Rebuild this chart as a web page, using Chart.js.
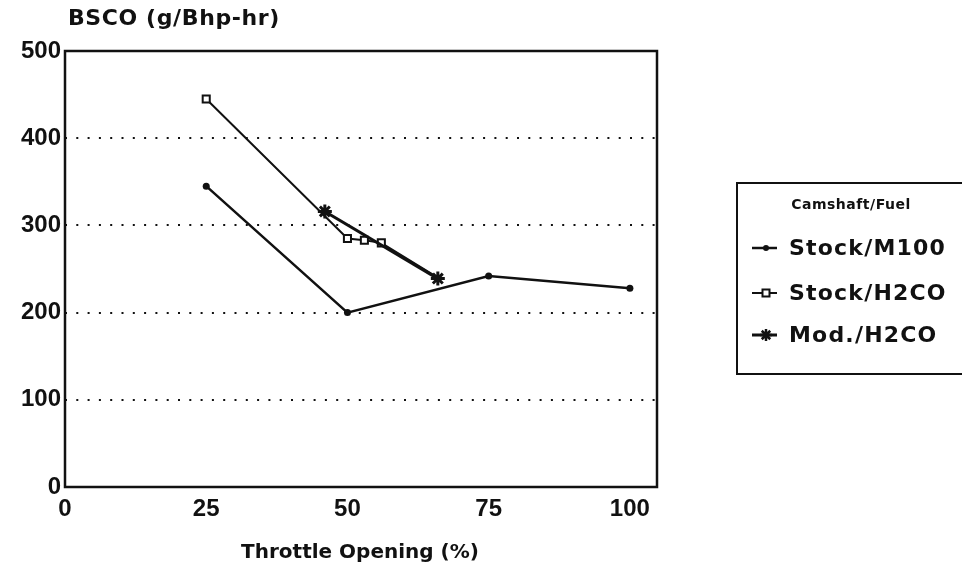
<!DOCTYPE html>
<html>
<head>
<meta charset="utf-8">
<script src="https://cdn.jsdelivr.net/npm/chart.js@4.4.1/dist/chart.umd.min.js"></script>
<style>
  html, body { margin: 0; padding: 0; background: #fff; }
  #wrap { width: 962px; height: 575px; }
</style>
</head>
<body>
<div id="wrap"><canvas id="chart" width="962" height="575"></canvas></div>
<script>
// BSCO vs throttle opening, three camshaft/fuel combos

// Axis ticks
const xTicks = [0, 25, 50, 75, 100];
const yTicks = [0, 100, 200, 300, 400, 500];

// Series (throttle %, g/Bhp-hr)
const m100X = [25, 50, 75, 100];
const m100Y = [345, 200, 242, 228];

const stockH2coX = [25, 50, 53, 56, 66];
const stockH2coY = [445, 285, 283, 280, 240];

const modH2coX = [46, 66];
const modH2coY = [316, 239];

const legendLabels = ['Stock/M100', 'Stock/H2CO', 'Mod./H2CO'];

const INK = '#111';

function toPoints(xs, ys) {
    return xs.map((x, i) => ({ x: x, y: ys[i] }));
}

// little marker drawer for the legend box
function drawMarker(ctx, style, x, y) {
    ctx.save();
    ctx.strokeStyle = INK;
    ctx.fillStyle = INK;
    if (style === 'circle') {
        ctx.beginPath();
        ctx.arc(x, y, 3, 0, Math.PI * 2);
        ctx.fill();
    } else if (style === 'rect') {
        ctx.fillStyle = '#fff';
        ctx.lineWidth = 2;
        ctx.beginPath();
        ctx.rect(x - 3.5, y - 3.5, 7, 7);
        ctx.fill();
        ctx.stroke();
    } else if (style === 'star') {
        ctx.lineWidth = 2.5;
        const r = 6;
        ctx.beginPath();
        for (let k = 0; k < 4; k++) {
            const a = k * Math.PI / 4;
            ctx.moveTo(x - r * Math.cos(a), y - r * Math.sin(a));
            ctx.lineTo(x + r * Math.cos(a), y + r * Math.sin(a));
        }
        ctx.stroke();
    }
    ctx.restore();
}

const decorPlugin = {
    id: 'decor',
    afterDraw(chart) {
        const ctx = chart.ctx;
        const a = chart.chartArea;
        ctx.save();

        // plot frame
        ctx.strokeStyle = INK;
        ctx.lineWidth = 2.5;
        ctx.strokeRect(a.left, a.top, a.right - a.left, a.bottom - a.top);

        // y title sits above the axis, horizontal
        ctx.fillStyle = INK;
        ctx.font = 'bold 22px "DejaVu Sans"';
        ctx.letterSpacing = '0.6px';
        ctx.textAlign = 'left';
        ctx.textBaseline = 'middle';
        ctx.fillText('BSCO (g/Bhp-hr)', 68, 19);

        // x title
        ctx.font = 'bold 20px "DejaVu Sans"';
        ctx.letterSpacing = '0px';
        ctx.textAlign = 'center';
        ctx.fillText('Throttle Opening (%)', 360, 553);

        // legend box
        ctx.lineWidth = 2;
        ctx.strokeRect(737, 183, 240, 191);

        ctx.font = 'bold 14px "DejaVu Sans"';
        ctx.letterSpacing = '0.5px';
        ctx.textAlign = 'center';
        ctx.fillText('Camshaft/Fuel', 851, 205);

        const rowsY = [248, 293, 335];
        const styles = ['circle', 'rect', 'star'];
        const widths = [2.5, 2, 3];
        ctx.font = 'bold 22px "DejaVu Sans"';
        ctx.letterSpacing = '1.2px';
        ctx.textAlign = 'left';
        legendLabels.forEach((label, i) => {
            const y = rowsY[i];
            ctx.lineWidth = widths[i];
            ctx.beginPath();
            ctx.moveTo(752, y);
            ctx.lineTo(777, y);
            ctx.stroke();
            drawMarker(ctx, styles[i], 766, y);
            ctx.fillText(label, 789, y + 1);
        });

        ctx.restore();
    }
};

const ctx = document.getElementById('chart').getContext('2d');
const chart = new Chart(ctx, {
    type: 'scatter',
    data: {
        datasets: [
            {
                label: legendLabels[2],
                data: toPoints(modH2coX, modH2coY),
                showLine: true,
                borderColor: INK,
                backgroundColor: INK,
                borderWidth: 3,
                pointStyle: 'star',
                pointRadius: 7,
                pointBorderWidth: 3,
                pointBorderColor: INK
            },
            {
                label: legendLabels[1],
                data: toPoints(stockH2coX, stockH2coY),
                showLine: true,
                borderColor: INK,
                backgroundColor: '#fff',
                borderWidth: 2,
                pointStyle: 'rect',
                pointRadius: [5, 5, 5, 5, 0],
                pointBorderWidth: 2,
                pointBorderColor: INK,
                pointBackgroundColor: '#fff'
            },
            {
                label: legendLabels[0],
                data: toPoints(m100X, m100Y),
                showLine: true,
                borderColor: INK,
                backgroundColor: INK,
                borderWidth: 2.5,
                pointStyle: 'circle',
                pointRadius: 3.5,
                pointBorderWidth: 0,
                pointBackgroundColor: INK
            }
        ]
    },
    options: {
        responsive: false,
        animation: false,
        events: [],
        layout: {
            padding: { left: 0, top: 51, right: 305, bottom: 0 }
        },
        plugins: {
            legend: { display: false },
            tooltip: { enabled: false }
        },
        scales: {
            x: {
                type: 'linear',
                min: 0,
                max: 104.8,
                afterFit(scale) { scale.height = 88; },
                afterBuildTicks(scale) {
                    scale.ticks = xTicks.map(v => ({ value: v }));
                },
                grid: { display: false, drawTicks: false },
                border: { display: false },
                ticks: {
                    color: INK,
                    padding: 8,
                    maxRotation: 0,
                    font: { family: '"Liberation Sans"', size: 24, weight: 'bold' }
                }
            },
            y: {
                type: 'linear',
                min: 0,
                max: 500,
                afterFit(scale) { scale.width = 65; },
                afterBuildTicks(scale) {
                    scale.ticks = yTicks.map(v => ({ value: v }));
                },
                grid: {
                    color: INK,
                    lineWidth: 2,
                    drawTicks: false
                },
                border: { display: false, dash: [2, 9.3] },
                ticks: {
                    color: INK,
                    padding: 4,
                    font: { family: '"Liberation Sans"', size: 24, weight: 'bold' }
                }
            }
        }
    },
    plugins: [decorPlugin]
});
</script>
</body>
</html>
